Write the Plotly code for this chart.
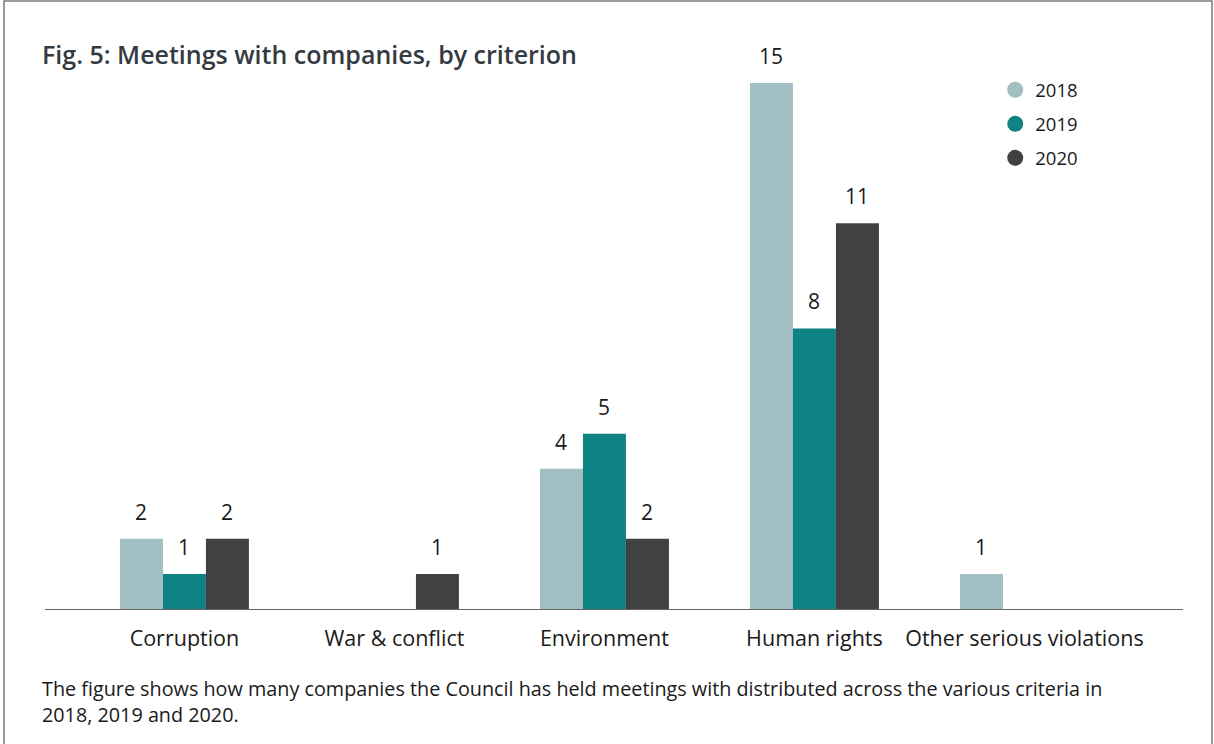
import plotly.graph_objects as go

categories = ["Corruption", "War & conflict", "Environment", "Human rights", "Other serious violations"]
years = ["2018", "2019", "2020"]
values_2018 = [2, 0, 4, 15, 1]
values_2019 = [1, 0, 5, 8, 0]
values_2020 = [2, 1, 2, 11, 0]
series = [values_2018, values_2019, values_2020]
colors = ["#a1bfc2", "#0f8383", "#414143"]

title_text = "Fig. 5: Meetings with companies, by criterion"
caption_text = ("The figure shows how many companies the Council has held meetings with distributed across the various criteria in"
                "<br>2018, 2019 and 2020.")

FONT = "Open Sans"
TXT = "#1a1a1a"

fig = go.Figure()
for yr, vals, col in zip(years, series, colors):
    fig.add_trace(go.Bar(x=categories, y=vals, name=yr, marker=dict(color=col, line=dict(width=0)),
                         showlegend=False, hoverinfo="x+y"))
for i, (yr, col) in enumerate(zip(years, colors)):
    fig.add_trace(go.Scatter(x=[None], y=[None], mode="markers", name=yr, legendgroup=yr,
                             marker=dict(color=col, size=16, symbol="circle")))

annotations = []
bar_px = 43
for i, vals in enumerate(series):
    for cat, v in zip(categories, vals):
        if v > 0:
            annotations.append(dict(x=cat, y=v, xref="x", yref="y", text=str(v), showarrow=False,
                                    yanchor="bottom", xshift=(i - 1) * bar_px, yshift=11,
                                    font=dict(family=FONT, size=21, color=TXT)))

annotations.append(dict(x=-0.004, y=1.0, xref="paper", yref="paper", xanchor="left", yanchor="middle",
                        yshift=-4, text=title_text, showarrow=False,
                        font=dict(family=FONT, size=25, color="#343a40", weight=600)))
annotations.append(dict(x=-0.004, y=-0.1145, xref="paper", yref="paper", xanchor="left", yanchor="top",
                        align="left", text=caption_text, showarrow=False,
                        font=dict(family=FONT, size=19.8, color=TXT)))

fig.update_layout(
    width=1214, height=744,
    margin=dict(l=45, r=31, t=50, b=135),
    paper_bgcolor="white", plot_bgcolor="white",
    barmode="group", bargap=0.386, bargroupgap=0,
    font=dict(family=FONT, color=TXT),
    legend=dict(x=0.835, y=0.962, xanchor="left", yanchor="top", font=dict(family=FONT, size=18.5, color=TXT),
                tracegroupgap=7, bgcolor="rgba(0,0,0,0)"),
    annotations=annotations,
    shapes=[dict(type="rect", xref="paper", yref="paper", x0=-0.0360, x1=1.0255, y0=-0.4, y1=1.0877,
                 line=dict(color="#7a7a7a", width=1.5), fillcolor="rgba(0,0,0,0)", layer="below")],
)
fig.update_xaxes(type="category", range=[-0.664, 4.755], showline=True, linecolor="#666666", linewidth=1,
                 ticks="outside", ticklen=10, tickcolor="rgba(0,0,0,0)",
                 tickfont=dict(family=FONT, size=21.5, color=TXT), showgrid=False, fixedrange=True)
fig.update_yaxes(range=[0, 15.94], visible=False, showgrid=False, zeroline=False, fixedrange=True)

fig.write_html("out.html")
